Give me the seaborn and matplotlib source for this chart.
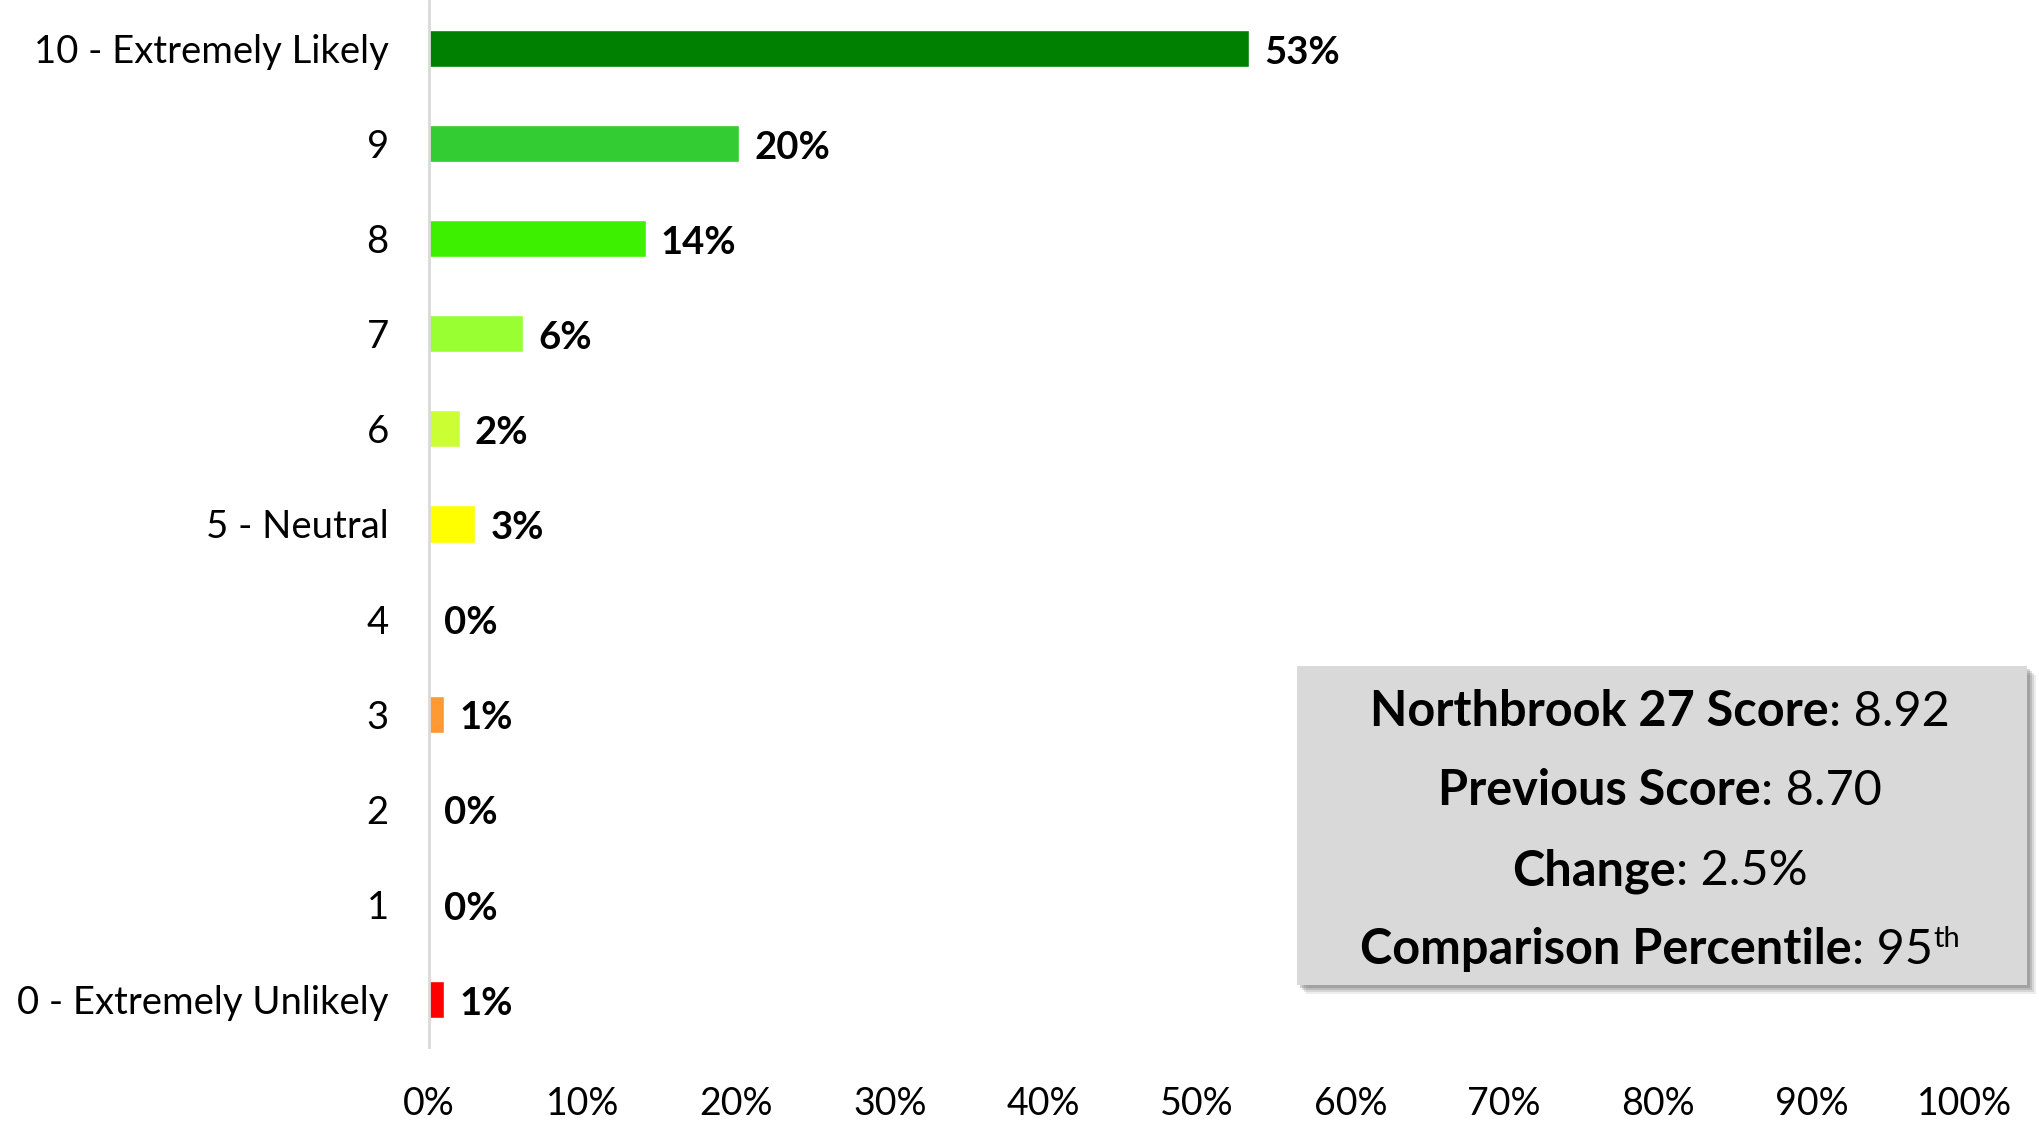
import matplotlib
matplotlib.use("Agg")
import matplotlib.pyplot as plt
import seaborn as sns
import pandas as pd
from matplotlib.patches import Rectangle

# ---------------- data ----------------
categories = ["10 - Extremely Likely", "9", "8", "7", "6", "5 - Neutral",
              "4", "3", "2", "1", "0 - Extremely Unlikely"]
values = [53.4, 20.2, 14.1, 6.1, 2.0, 3.0, 0.0, 1.0, 0.0, 0.0, 1.0]
bar_colors = ["#008000", "#33CC33", "#3CF000", "#99FF33", "#CCFF33", "#FFFF00",
              "#FFCC00", "#FF9933", "#FF6600", "#FF3300", "#FF0000"]
xticks = [0, 10, 20, 30, 40, 50, 60, 70, 80, 90, 100]
xtick_labels = [f"{t}%" for t in xticks]

summary_labels = ["Northbrook 27 Score", "Previous Score", "Change", "Comparison Percentile"]
summary_values = [": 8.92", ": 8.70", ": 2.5%", ": 95"]
summary_sup = ["", "", "", "th"]

# ---------------- style ----------------
sns.set_theme(style="white")
plt.rcParams['font.family'] = ['Lato', 'DejaVu Sans']

W, H = 2040, 1124
fig = plt.figure(figsize=(W / 100, H / 100), dpi=100)
fig.patch.set_facecolor("white")

left, right, bottom, top = 429, 1965, 1047, 1
ax = fig.add_axes([left / W, 1 - bottom / H, (right - left) / W, (bottom - top) / H])

df = pd.DataFrame({"cat": categories, "val": values})
sns.barplot(data=df, y="cat", x="val", hue="cat", order=categories,
            hue_order=categories, palette=bar_colors, saturation=1,
            legend=False, width=0.39, ax=ax, orient="h")

ax.set_xlim(0, 100)
ax.set_ylim(10.5, -0.5)
ax.set_xticks(xticks)
ax.set_xticklabels(xtick_labels)
ax.set_xlabel("")
ax.set_ylabel("")
for s in ["top", "right", "bottom"]:
    ax.spines[s].set_visible(False)
ax.spines["left"].set_color("#d9d9d9")
ax.spines["left"].set_linewidth(2)
ax.tick_params(axis="y", length=0, pad=29, labelsize=27.5, labelcolor="black")
ax.tick_params(axis="x", length=0, pad=28, labelsize=27, labelcolor="black")
ax.grid(False)

for i, v in enumerate(values):
    ax.annotate(f"{v:.0f}%", xy=(v, i), xytext=(11, -3), textcoords="offset points",
                va="center", ha="left", fontsize=27.5, fontweight="bold", color="black")

# ---------------- summary box ----------------
bx0, by0, bx1, by1 = 1297, 666, 2027, 985
for k, (off, a) in enumerate([(9, 0.10), (7, 0.15), (5, 0.2), (3, 0.25)]):
    fig.add_artist(Rectangle(((bx0 + off) / W, 1 - (by1 + off) / H), (bx1 - bx0) / W,
                             (by1 - by0) / H, transform=fig.transFigure,
                             facecolor="#555555", alpha=a, edgecolor="none", zorder=5))
fig.add_artist(Rectangle((bx0 / W, 1 - by1 / H), (bx1 - bx0) / W, (by1 - by0) / H,
                         transform=fig.transFigure, facecolor="#d9d9d9",
                         edgecolor="none", zorder=6))

fs_box = 35
baselines = [726, 805, 885, 964]
center_x = 1660
fig.canvas.draw()
renderer = fig.canvas.get_renderer()
for lab, val, sup, yb in zip(summary_labels, summary_values, summary_sup, baselines):
    parts = [(lab, "bold", fs_box, 0), (val, "normal", fs_box, 0)]
    if sup:
        parts.append((sup, "normal", fs_box * 0.6, 17))
    texts = []
    widths = []
    for txt, wt, fs, dy in parts:
        t = fig.text(0, 0, txt, fontsize=fs, fontweight=wt, color="black",
                     ha="left", va="baseline", zorder=7)
        bb = t.get_window_extent(renderer)
        texts.append((t, dy))
        widths.append(bb.width)
    x = center_x - sum(widths) / 2
    for (t, dy), w in zip(texts, widths):
        t.set_position((x / W, 1 - (yb - dy) / H))
        x += w

fig.savefig("out.png", dpi=100, facecolor="white")
